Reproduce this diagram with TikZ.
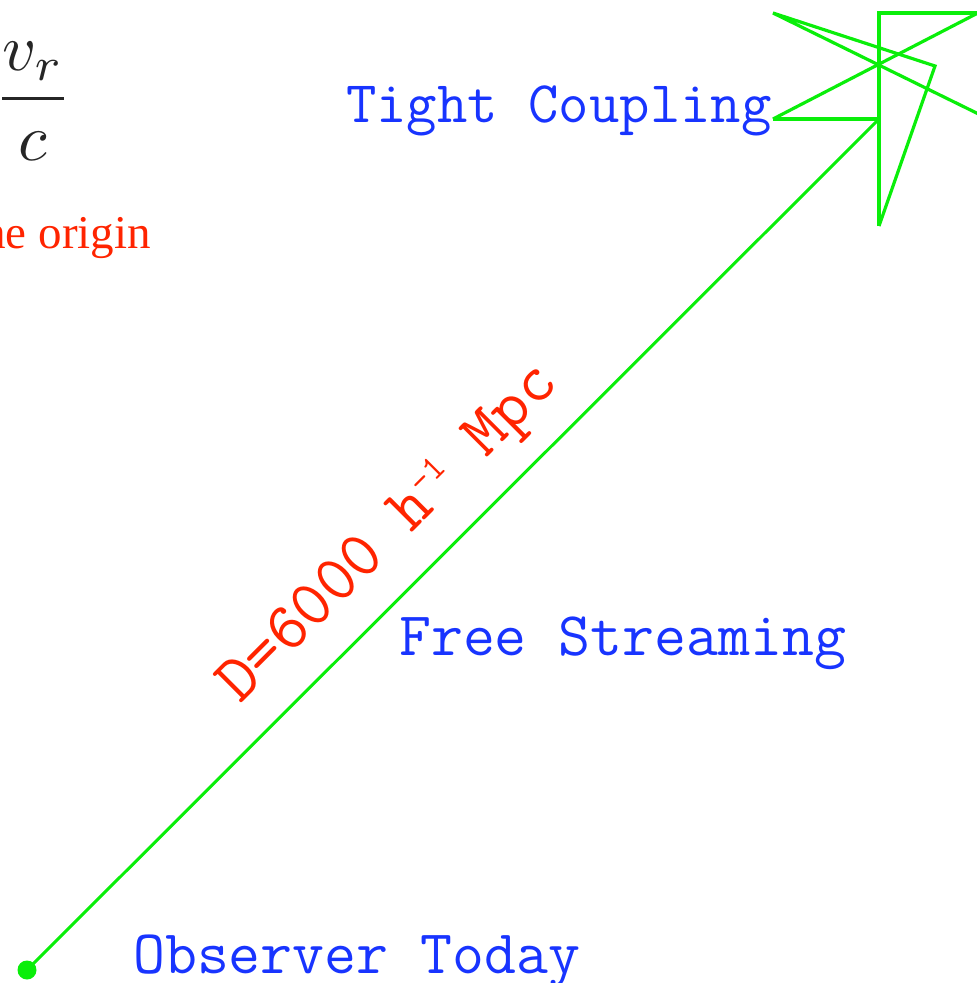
\documentclass[tikz,border=0pt]{standalone}
\usepackage{amsmath}
\usepackage{fontspec}
\newfontfamily\timesfont{Liberation Serif}
\definecolor{raygreen}{RGB}{10,238,10}
\definecolor{labblue}{RGB}{24,52,255}
\definecolor{labred}{RGB}{255,36,0}
\tikzset{
  lab/.style={text=labblue,font=\fontsize{62}{62}\selectfont\ttfamily,inner sep=0pt},
  dist/.style={text=labred,font=\fontsize{67}{67}\selectfont\ttfamily,inner sep=0pt},
  ray/.style={raygreen,line width=3pt},
  frame/.style={raygreen,line width=3.2pt,line join=miter}
}
\begin{document}
\begin{tikzpicture}[x=1pt,y=-1pt]
\useasboundingbox (0,0) rectangle (977,983);
\clip (0,0) rectangle (977,983);
\node[anchor=center,inner sep=0pt,text=black!85] (ratio) at (33,101) {\scalebox{6.6}{$\dfrac{v_r}{c}$}};
\node[anchor=base east,inner sep=0pt,text=labred,font=\fontsize{47}{47}\selectfont\timesfont] (orig) at (151,248) {the origin};
\coordinate (obs) at (27,970); \coordinate (tip) at (879,119);
\coordinate (a) at (773,119); \coordinate (b) at (1003,0); \coordinate (c) at (879,226);
\coordinate (d) at (879,13); \coordinate (e) at (1000,13); \coordinate (f) at (773,13);
\coordinate (g) at (935,66); \coordinate (h) at (1003,126);
\draw[ray] (obs) -- (tip); \fill[raygreen] (obs) circle(9.5);
\draw[frame] (a) -- (tip); \draw[frame] (a) -- (b);
\draw[frame] (c) -- (d) -- (e);
\draw[frame] (h) -- (f) -- (g) -- (c);
\node[lab,anchor=base west,font=\fontsize{59}{59}\selectfont\ttfamily] (tight) at (346,122) {Tight Coupling};
\node[lab,anchor=base west] (free) at (399,655) {Free Streaming};
\node[lab,anchor=base west] (today) at (133,973) {Observer Today};
\node[dist,anchor=base,rotate=45] (dlab) at (400,545) {D=6000 h\raisebox{0.3em}{\fontsize{36}{36}\selectfont -1} Mpc};
\end{tikzpicture}
\end{document}
